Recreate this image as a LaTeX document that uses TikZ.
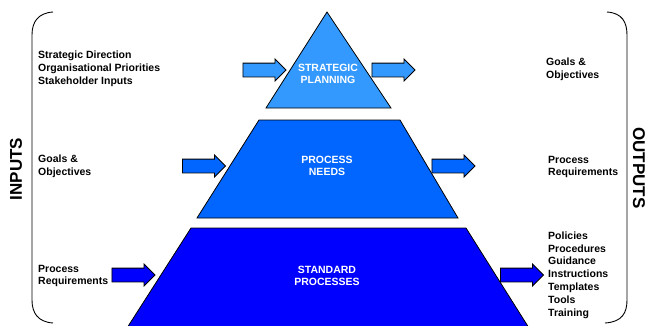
\documentclass[tikz,border=0pt]{standalone}
\usepackage{fontspec}
\setmainfont{Liberation Sans}
\usepackage{tikz}
\usetikzlibrary{shapes.arrows, positioning}
\definecolor{lightsky}{RGB}{51,153,255}
\definecolor{midblue}{RGB}{0,102,255}
\definecolor{deepblue}{RGB}{0,0,255}

\begin{document}
\begin{tikzpicture}[
    x=1pt, y=1pt,
    tier/.style={draw, line width=0.8pt},
    tierlabel/.style={text=white, font=\fontsize{10.5}{12.5}\selectfont\bfseries, align=center},
    side/.style={font=\fontsize{10.5}{12.8}\selectfont\bfseries, align=left, anchor=west, inner sep=0pt},
    heading/.style={font=\fontsize{17}{20}\selectfont\bfseries, inner sep=0pt},
    fatarrow/.style={single arrow, draw, line width=0.8pt, minimum height=43pt, inner xsep=0pt, inner ysep=6.5pt, single arrow head extend=4pt}
]
\useasboundingbox (0,0) rectangle (648,325);
\clip (0,0) rectangle (648,325);

% Pyramid tiers
\draw[tier, fill=lightsky] (327,313) -- (391,217) -- (266,217) -- cycle;
\draw[tier, fill=midblue] (259,205) -- (400,205) -- (458,107) -- (197,107) -- cycle;
\draw[tier, fill=deepblue] (191,97) -- (466,97) -- (529,-3) -- (127,-3) -- cycle;

\node[tierlabel] (strat) at (328,251) {STRATEGIC\\PLANNING};
\node[tierlabel] (needs) at (327,159) {PROCESS\\NEEDS};
\node[tierlabel] (std) at (327,49) {STANDARD\\PROCESSES};

% Arrows
\node[fatarrow, fill=lightsky] (a1in) at (261,255) {};
\node[fatarrow, fill=lightsky] (a1out) at (390,255) {};
\node[fatarrow, fill=midblue] (a2in) at (200.5,159) {};
\node[fatarrow, fill=midblue] (a2out) at (450,159) {};
\node[fatarrow, fill=deepblue] (a3in) at (130,50) {};
\node[fatarrow, fill=deepblue] (a3out) at (518.5,50) {};

% Inputs
\node[side] (in1) at (38,256) {Strategic Direction\\Organisational Priorities\\Stakeholder Inputs};
\node[side] (in2) at (38,159) {Goals \&\\Objectives};
\node[side] (in3) at (38,49) {Process\\Requirements};

% Outputs
\node[side] (out1) at (546,256) {Goals \&\\Objectives};
\node[side] (out2) at (548,158) {Process\\Requirements};
\node[side] (out3) at (548,50) {Policies\\Procedures\\Guidance\\Instructions\\Templates\\Tools\\Training};

% Brackets
\draw[line width=0.9pt] (53,313) .. controls (38,312) and (32,303) .. (32,290)
    -- (32,25) .. controls (32,12) and (38,3) .. (53,2);
\draw[line width=0.9pt] (607,313) .. controls (622,312) and (627,303) .. (627,290)
    -- (627,25) .. controls (627,12) and (622,3) .. (605,2);
\node[heading, rotate=90] (inputs) at (16,156) {INPUTS};
\node[heading, rotate=-90] (outputs) at (639,157) {OUTPUTS};

\end{tikzpicture}
\end{document}
